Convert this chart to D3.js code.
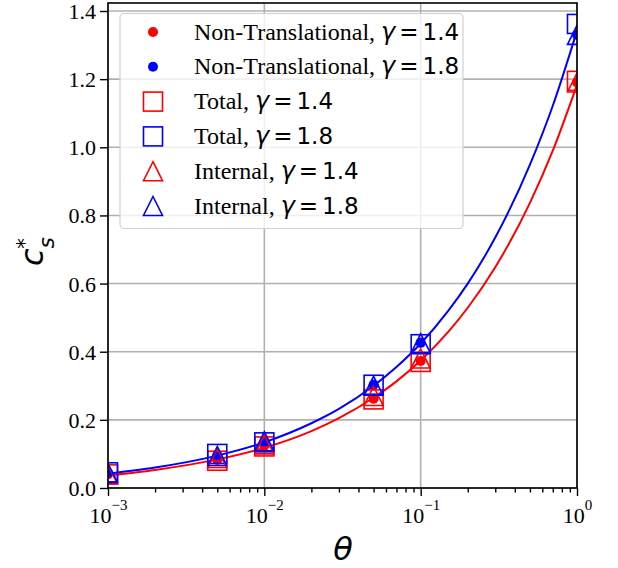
<!DOCTYPE html>
<html>
<head>
<meta charset="utf-8">
<script src="https://cdn.jsdelivr.net/npm/d3@7"></script>
<style>
  body { margin: 0; background: #fff; }
  .serif { font-family: "Liberation Serif", "Times New Roman", serif; }
  .math { font-family: "DejaVu Sans", sans-serif; }
</style>
</head>
<body>
<div class="container"></div>
<script>
// sampled theta values
const thetas = [0.001, 0.005, 0.01, 0.05, 0.1, 1];

// marker series
const nonTrans14 = [0.040, 0.082, 0.124, 0.262, 0.373, 1.19];
const nonTrans18 = [0.045, 0.096, 0.136, 0.303, 0.426, 1.33];
const total14 = [0.040, 0.080, 0.122, 0.260, 0.370, 1.195];
const total18 = [0.046, 0.100, 0.134, 0.303, 0.422, 1.362];
const internal14 = [0.040, 0.088, 0.128, 0.270, 0.380, 1.19];
const internal18 = [0.044, 0.094, 0.137, 0.300, 0.425, 1.33];

// fitted curves
const curveTheta = [0.001, 0.002, 0.005, 0.01, 0.02, 0.03, 0.05, 0.07, 0.1, 0.15, 0.2, 0.3, 0.5, 0.7, 1];
const curve14 = [0.037, 0.053, 0.084, 0.118, 0.167, 0.205, 0.265, 0.313, 0.374, 0.458, 0.529, 0.648, 0.837, 0.990, 1.183];
const curve18 = [0.042, 0.060, 0.095, 0.134, 0.190, 0.232, 0.300, 0.355, 0.424, 0.520, 0.600, 0.735, 0.949, 1.122, 1.342];

const xTicks = [1e-3, 1e-2, 1e-1, 1];
const xTickExp = ["\u22123", "\u22122", "\u22121", "0"];
const yTicks = [0, 0.2, 0.4, 0.6, 0.8, 1.0, 1.2, 1.4];

const legendLabels = [
  { text: "Non-Translational,", g: "1.4", color: "red", shape: "dot" },
  { text: "Non-Translational,", g: "1.8", color: "blue", shape: "dot" },
  { text: "Total,", g: "1.4", color: "red", shape: "square" },
  { text: "Total,", g: "1.8", color: "blue", shape: "square" },
  { text: "Internal,", g: "1.4", color: "red", shape: "tri" },
  { text: "Internal,", g: "1.8", color: "blue", shape: "tri" }
];

const W = 618, H = 568;
const m = { left: 108, right: 577, top: 3, bottom: 488 };

const svg = d3.select('.container').append('svg')
  .attr('width', W).attr('height', H);

const x = d3.scaleLog().domain([1e-3, 1]).range([m.left, m.right]);
const y = d3.scaleLinear().domain([0, 1.4235]).range([m.bottom, m.top]);

svg.append('defs').append('clipPath').attr('id', 'clip')
  .append('rect').attr('x', m.left).attr('y', m.top)
  .attr('width', m.right - m.left).attr('height', m.bottom - m.top);

// grid
const grid = svg.append('g').attr('stroke', '#b0b0b0').attr('stroke-width', 1.6);
grid.selectAll('.gx').data(xTicks).join('line')
  .attr('x1', d => x(d)).attr('x2', d => x(d)).attr('y1', m.top).attr('y2', m.bottom);
grid.selectAll('.gy').data(yTicks).join('line')
  .attr('x1', m.left).attr('x2', m.right).attr('y1', d => y(d)).attr('y2', d => y(d));

const plot = svg.append('g').attr('clip-path', 'url(#clip)');

const line = d3.line().x(d => x(d[0])).y(d => y(d[1])).curve(d3.curveMonotoneX);
plot.append('path').datum(d3.zip(curveTheta, curve14)).attr('d', line)
  .attr('fill', 'none').attr('stroke', 'red').attr('stroke-width', 2);
plot.append('path').datum(d3.zip(curveTheta, curve18)).attr('d', line)
  .attr('fill', 'none').attr('stroke', 'blue').attr('stroke-width', 2);

const sq = 19, tri = 19, dotR = 5;
const triPath = `M0,${-tri/2}L${tri/2},${tri/2}L${-tri/2},${tri/2}Z`;

function drawMarker(g, shape, color) {
  if (shape === 'dot') {
    g.append('circle').attr('r', dotR).attr('fill', color);
  } else if (shape === 'square') {
    g.append('rect').attr('x', -sq/2).attr('y', -sq/2).attr('width', sq).attr('height', sq)
      .attr('fill', 'none').attr('stroke', color).attr('stroke-width', 1.6);
  } else {
    g.append('path').attr('d', triPath)
      .attr('fill', 'none').attr('stroke', color).attr('stroke-width', 1.6);
  }
}

const series = [
  [nonTrans14, 'dot', 'red'], [nonTrans18, 'dot', 'blue'],
  [total14, 'square', 'red'], [total18, 'square', 'blue'],
  [internal14, 'tri', 'red'], [internal18, 'tri', 'blue']
];
series.forEach(([vals, shape, color]) => {
  plot.append('g').selectAll('g').data(d3.zip(thetas, vals)).join('g')
    .attr('transform', d => `translate(${x(d[0])},${y(d[1])})`)
    .each(function() { drawMarker(d3.select(this), shape, color); });
});

// axes
const xAxis = svg.append('g').attr('transform', `translate(0,${m.bottom})`)
  .call(d3.axisBottom(x).tickValues(xTicks).tickSize(8).tickFormat(''));
const minor = [];
[1e-3, 1e-2, 1e-1].forEach(b => { for (let k = 2; k <= 9; k++) minor.push(b * k); });
svg.append('g').attr('transform', `translate(0,${m.bottom})`)
  .call(d3.axisBottom(x).tickValues(minor).tickSize(4.5).tickFormat(''));
const yAxis = svg.append('g').attr('transform', `translate(${m.left},0)`)
  .call(d3.axisLeft(y).tickValues(yTicks).tickSize(8).tickFormat(d3.format('.1f')));

svg.selectAll('.tick line').attr('stroke', '#000').attr('stroke-width', 1.4);
svg.selectAll('.domain').remove();

yAxis.selectAll('text').attr('class', 'serif').attr('font-size', 22)
  .attr('fill', '#000').attr('x', -12).attr('dy', '0.34em');

xAxis.selectAll('.tick').each(function(d, i) {
  const t = d3.select(this).append('text').attr('class', 'serif')
    .attr('font-size', 22).attr('fill', '#000').attr('text-anchor', 'middle')
    .attr('y', 35);
  t.append('tspan').text('10');
  t.append('tspan').attr('font-size', 15).attr('dy', -13).text(xTickExp[i]);
});

// frame
svg.append('rect').attr('x', m.left).attr('y', m.top)
  .attr('width', m.right - m.left).attr('height', m.bottom - m.top)
  .attr('fill', 'none').attr('stroke', '#000').attr('stroke-width', 1.6);

// axis labels
svg.append('text').attr('class', 'math').attr('x', 343).attr('y', 560)
  .attr('text-anchor', 'middle').attr('font-size', 32).attr('font-style', 'italic')
  .text('\u03b8');

const yl = svg.append('text').attr('class', 'math')
  .attr('transform', 'translate(43,266) rotate(-90)').attr('font-size', 32);
yl.append('tspan').attr('font-style', 'italic').text('c');
yl.append('tspan').attr('font-style', 'italic').attr('font-size', 22).attr('dy', 11).text('s');
yl.append('tspan').attr('font-size', 22).attr('dx', -12).attr('dy', -22).text('*');

// legend
const leg = svg.append('g');
leg.append('rect').attr('x', 120).attr('y', 13.5).attr('width', 343).attr('height', 215)
  .attr('rx', 4).attr('fill', 'rgba(255,255,255,0.8)').attr('stroke', '#d0d0d0').attr('stroke-width', 1.2);
const rows = leg.selectAll('.row').data(legendLabels).join('g')
  .attr('transform', (d, i) => `translate(0,${32 + i * 34.8})`);
rows.each(function(d) {
  const g = d3.select(this);
  drawMarker(g.append('g').attr('transform', 'translate(153,0)'), d.shape, d.color);
  const t = g.append('text').attr('x', 194).attr('y', 7.5).attr('font-size', 24).attr('fill', '#000');
  t.append('tspan').attr('class', 'serif').text(d.text);
  t.append('tspan').attr('class', 'math').attr('font-style', 'italic').attr('dx', 6).text('\u03b3');
  t.append('tspan').attr('class', 'math').attr('font-size', 23).attr('dx', 4).text('=');
  t.append('tspan').attr('class', 'math').attr('font-size', 23).attr('dx', 4).text(d.g);
});
</script>
</body>
</html>
